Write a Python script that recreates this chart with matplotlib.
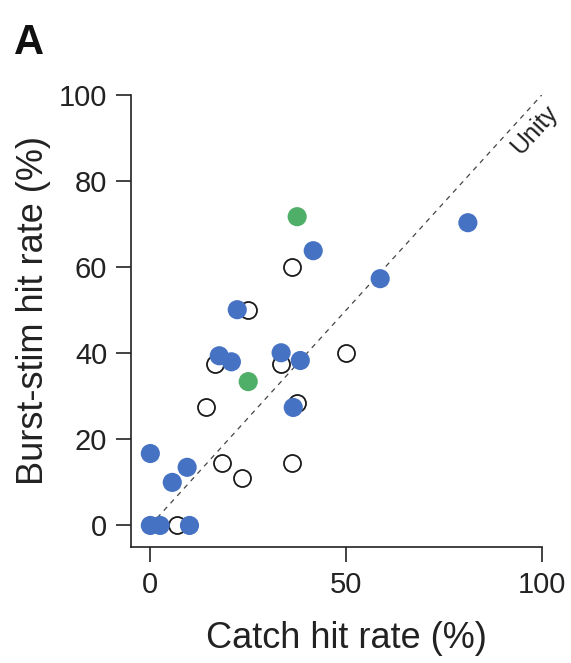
import matplotlib
matplotlib.use("Agg")
from matplotlib import pyplot as plt
import numpy as np

plt.rcParams['font.family'] = ['Liberation Sans', 'DejaVu Sans']

# catch hit rate (x) vs burst-stim hit rate (y), in %
blue_x = [0, 0, 2.5, 10, 5.6, 9.4, 17.6, 20.7, 22.2, 33.4, 38.3, 36.5, 41.6, 58.7, 81.1]
blue_y = [16.7, 0, 0, 0, 10, 13.5, 39.4, 38, 50.1, 40.1, 38.3, 27.4, 63.8, 57.3, 70.3]
green_x = [37.5, 25]
green_y = [71.7, 33.4]
open_x = [6.9, 25, 16.6, 33.4, 37.5, 36.2, 50, 14.3, 18.4, 23.5, 36.2]
open_y = [0, 50.1, 37.6, 37.6, 28.5, 60.1, 40.1, 27.6, 14.4, 11.1, 14.4]

xticks = [0, 50, 100]
yticks = [0, 20, 40, 60, 80, 100]

fig = plt.figure(figsize=(5.71, 6.63), dpi=100)
ax = fig.add_axes([0.229, 0.175, 0.72, 0.682])

# unity line
ax.plot([0, 100], [0, 100], ls=(0, (4, 4)), lw=0.9, color='#444444', zorder=1)
ax.text(98.2, 91.9, 'Unity', rotation=47.7, ha='center', va='center',
        fontsize=18, color='#222222', rotation_mode='anchor')

ax.scatter(open_x, open_y, s=150, facecolor='white', edgecolor='#1a1a1a', linewidth=1.3, zorder=2)
ax.scatter(blue_x, blue_y, s=190, color='#4672c4', edgecolor='none', zorder=3)
ax.scatter(green_x, green_y, s=190, color='#4fae68', edgecolor='none', zorder=4)

ax.set_xlim(-5, 100)
ax.set_ylim(-5, 100)
ax.set_xticks(xticks)
ax.set_yticks(yticks)
for s in ['top', 'right']:
    ax.spines[s].set_visible(False)
for s in ['left', 'bottom']:
    ax.spines[s].set_linewidth(1.2)
    ax.spines[s].set_color('#222222')
ax.tick_params(length=11, width=1.2, color='#222222', labelsize=21, labelcolor='#222222', pad=6)

ax.set_xlabel('Catch hit rate (%)', fontsize=26, color='#222222')
ax.set_ylabel('Burst-stim hit rate (%)', fontsize=26, color='#222222')
# labels centred on the 0-100 data range
ax.xaxis.set_label_coords(0.5238, -0.2235)
ax.xaxis.label.set_va('baseline')
ax.yaxis.set_label_coords(-0.214, 0.5238)
ax.yaxis.label.set_va('baseline')

fig.text(0.025, 0.965, 'A', fontsize=30, fontweight='bold', va='top', ha='left', color='#111111')

fig.savefig('out.png', dpi=100)
